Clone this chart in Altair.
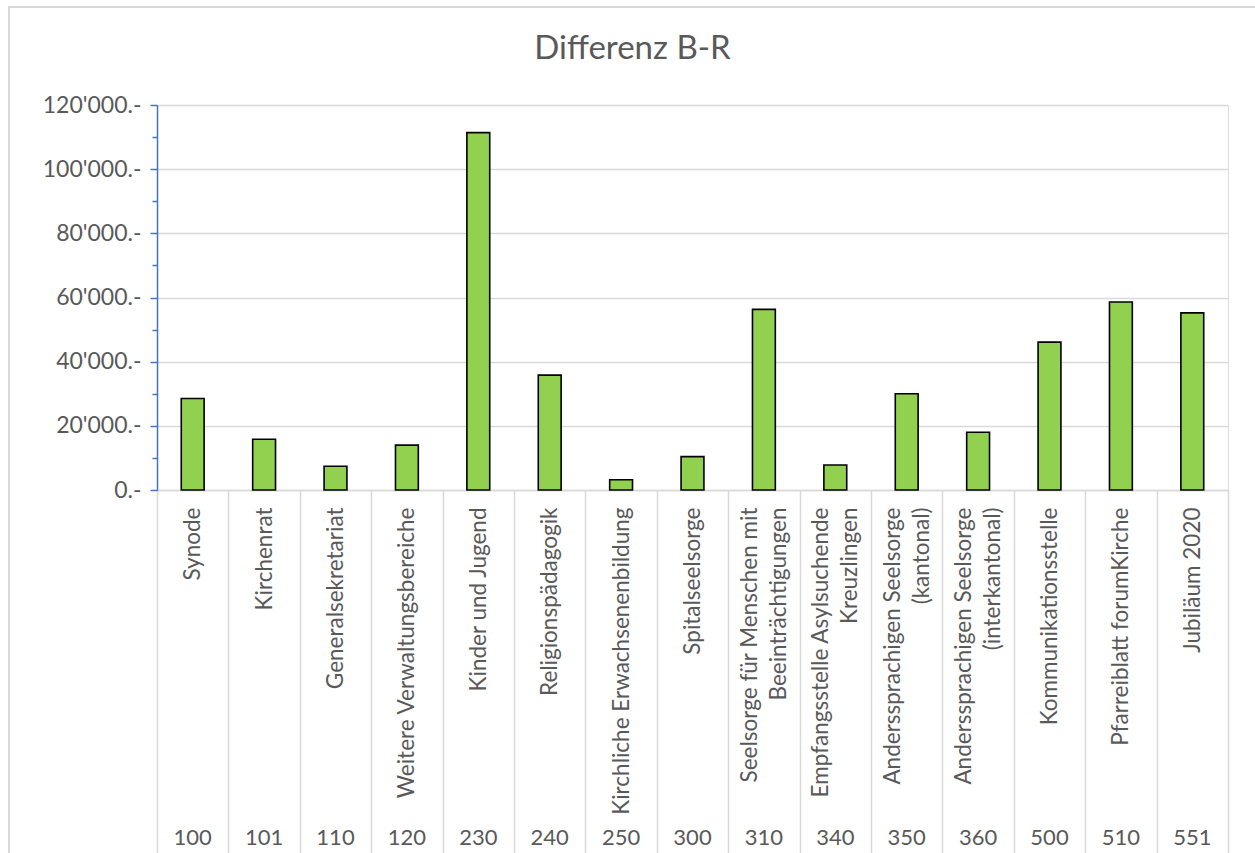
import altair as alt
import pandas as pd

names = [
    "Synode", "Kirchenrat", "Generalsekretariat", "Weitere Verwaltungsbereiche",
    "Kinder und Jugend", "Religionspädagogik", "Kirchliche Erwachsenenbildung",
    "Spitalseelsorge", "Seelsorge für Menschen mit\nBeeinträchtigungen",
    "Empfangsstelle Asylsuchende\nKreuzlingen", "Anderssprachigen Seelsorge\n(kantonal)",
    "Anderssprachigen Seelsorge\n(interkantonal)", "Kommunikationsstelle",
    "Pfarreiblatt forumKirche", "Jubiläum 2020",
]
codes = ["100", "101", "110", "120", "230", "240", "250", "300", "310", "340",
         "350", "360", "500", "510", "551"]
values = [28500, 15800, 7400, 14000, 111400, 35800, 3200, 10400, 56300, 7800,
          30000, 18000, 46100, 58600, 55200]
y_ticks = list(range(0, 120001, 10000))

df = pd.DataFrame({"name": names, "code": codes, "value": values})

FONT = "Lato"
TXT = "#595959"
GRID = "#D9D9D9"
W, H = 1071, 385
LINE_H = 29

xscale = alt.Scale(domain=names, paddingInner=0, paddingOuter=0)
yscale = alt.Scale(domain=[0, 120000], nice=False)

bars = alt.Chart(df).mark_bar(
    color="#92D050", stroke="#000000", strokeWidth=1.6,
    width=alt.RelativeBandSize(0.32)
).encode(
    x=alt.X("name:N", scale=xscale, sort=names, title=None,
            axis=alt.Axis(
                labelExpr="split(datum.label, '\\n')",
                labelAngle=-90, labelAlign="right", labelBaseline="middle",
                labelFont=FONT, labelFontSize=22.5, labelColor=TXT,
                labelPadding=-355, labelLineHeight=LINE_H,
                labelOffset={"condition": {"test": "indexof(datum.label, '\\n') >= 0",
                                           "value": -LINE_H / 2}, "value": 0},
                tickBand="extent", tickSize=372, tickColor=GRID, tickWidth=1.5,
                domainColor=GRID, domainWidth=1.5, labelLimit=400,
                grid=False)),
    y=alt.Y("value:Q", scale=yscale, title=None,
            axis=alt.Axis(
                values=y_ticks,
                labelExpr="datum.value % 20000 == 0 ? replace(format(datum.value, ','), ',', \"'\") + '.-' : ''",
                labelFont=FONT, labelFontSize=23, labelColor=TXT, labelPadding=9,
                domainColor="#4472C4", domainWidth=1.5,
                tickColor="#4472C4", tickWidth=1.5,
                tickSize={"condition": {"test": "datum.value % 20000 == 0", "value": 7}, "value": 5},
                grid=True, gridColor=GRID, gridWidth=1.5,
                gridOpacity={"condition": {"test": "datum.value % 20000 == 0", "value": 1}, "value": 0})),
)

code_text = alt.Chart(df).mark_text(
    font=FONT, fontSize=22, color=TXT, baseline="middle"
).encode(
    x=alt.X("name:N", scale=xscale, sort=names),
    y=alt.value(H + 348),
    text="code:N",
)

frame = alt.Chart(df).mark_rect(
    fill=None, stroke=GRID, strokeWidth=1.5, clip=False
).encode(
    x=alt.value(-148), x2=alt.value(W + 40),
    y=alt.value(-98), y2=alt.value(H + 400),
)

chart = alt.layer(frame, bars, code_text).properties(
    width=W, height=H,
    title=alt.TitleParams("Differenz B-R", font=FONT, fontSize=33, color=TXT,
                          fontWeight="normal", anchor="middle", dx=-60, offset=-60),
    autosize=alt.AutoSizeParams(type="none"),
    padding={"left": 157, "top": 105, "right": 27, "bottom": 363},
).configure_view(stroke=None).configure(background="white")

chart.save("out.html", embed_options={"renderer": "svg", "actions": False})
